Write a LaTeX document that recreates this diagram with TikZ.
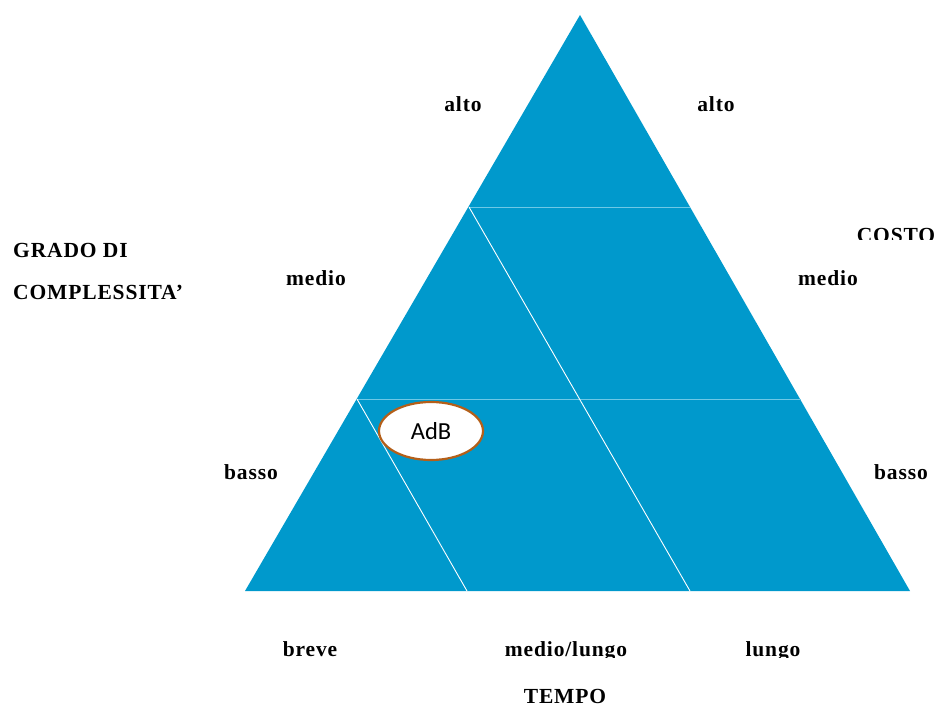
\documentclass[tikz,border=0pt]{standalone}
\usepackage{fontspec}
\usetikzlibrary{shapes.geometric}
\setmainfont{Liberation Serif}[LetterSpace=4]
\newfontfamily\labelsans{Carlito}
\definecolor{pyramid}{RGB}{0,153,204}
\definecolor{bandline}{RGB}{110,200,230}
\definecolor{ringbrown}{RGB}{180,95,25}
\begin{document}
\begin{tikzpicture}[x=1pt,y=-1pt,
  lbl/.style={inner sep=0pt,anchor=base,font=\fontsize{21.5}{24}\selectfont\bfseries},
  lblleft/.style={lbl,anchor=base west},
  divider/.style={white,line width=0.9pt},
  bandedge/.style={bandline,line width=0.9pt}]
\useasboundingbox (0,0) rectangle (938,706);

% main triangle
\coordinate (apex) at (580,15);
\coordinate (bl) at (245,591);
\coordinate (br) at (910,591);
\fill[pyramid] (apex) -- (br) -- (bl) -- cycle;

% level borders
\coordinate (h1l) at (469,207);
\coordinate (h1r) at (690,207);
\coordinate (h2l) at (357,399);
\coordinate (h2r) at (801,399);
\coordinate (b1) at (467,591);
\coordinate (b2) at (690,591);
\draw[bandedge] (h1l) -- (h1r);
\draw[bandedge] (h2l) -- (h2r);
\draw[divider] (h1l) -- (b2);
\draw[divider] (h2l) -- (b1);

% AdB marker
\node[draw=ringbrown,line width=2.2pt,fill=white,ellipse,minimum width=104pt,minimum height=58pt,inner sep=0pt,
  font=\labelsans\fontsize{24.5}{28}\selectfont] (adb) at (431,431) {AdB};

% side labels
\node[lbl] (altoL) at (463,112) {alto};
\node[lbl] (altoR) at (716,112) {alto};
\node[lbl] (medioL) at (316,285) {medio};
\node[lbl] (medioR) at (828,285) {medio};
\node[lbl] (bassoL) at (251,479) {basso};
\node[lbl] (bassoR) at (901,479) {basso};
\node[lblleft] (grado1) at (13,258) {GRADO DI};
\node[lblleft] (grado2) at (13,299) {COMPLESSITA’};
\node[lbl] (breve) at (310,656) {breve};
\begin{scope}
  \clip (400,600) rectangle (900,657.5);
  \node[lbl] (mediolungo) at (566,656) {medio/lungo};
  \node[lbl] (lungo) at (773,656) {lungo};
\end{scope}
\begin{scope}
  \clip (820,200) rectangle (938,240);
  \node[lbl] (costo) at (896,243) {COSTO};
\end{scope}
\node[lbl] (tempo) at (565,703) {TEMPO};
\end{tikzpicture}
\end{document}
